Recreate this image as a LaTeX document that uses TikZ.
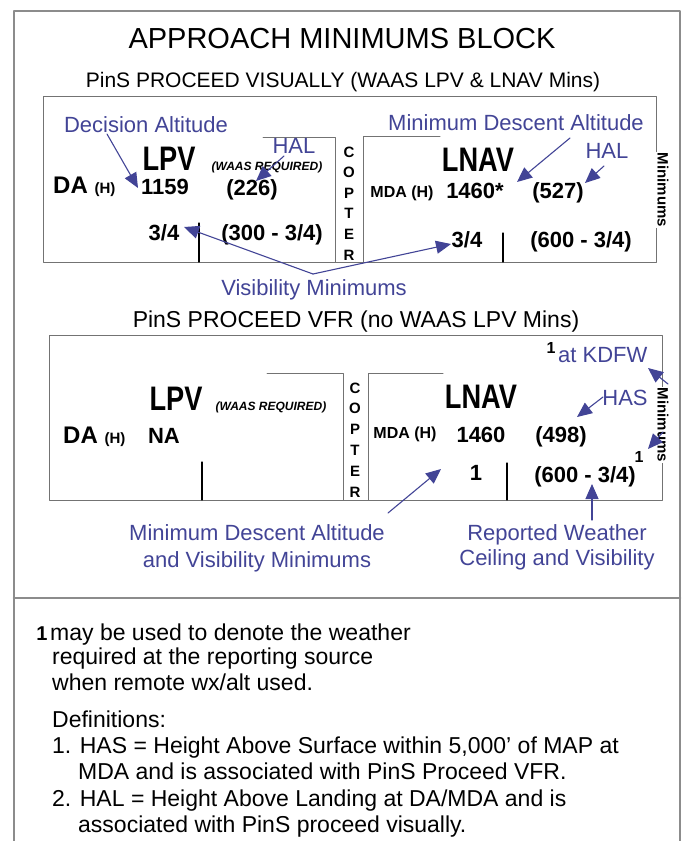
\documentclass[tikz,border=0pt]{standalone}
\usepackage{fontspec}
\setmainfont{Liberation Sans}
\newfontfamily\narrowfont[FakeStretch=0.8]{Liberation Sans}
\usetikzlibrary{arrows.meta}
\definecolor{faablue}{RGB}{66,68,150}
\definecolor{framegray}{RGB}{140,140,140}
\definecolor{boxgray}{RGB}{115,115,115}
\newcommand{\fsz}[1]{\fontsize{#1}{#1}\selectfont}

\begin{document}
\begin{tikzpicture}[x=1pt, y=-1pt, >={Triangle[length=15pt,width=13pt]},
                    line cap=round, line join=round,
                    txt/.style={inner sep=0pt, anchor=base},
                    title/.style={txt, font=\fsz{29}},
                    head/.style={txt, font=\fsz{21}},
                    lbl/.style={txt, text=faablue, font=\fsz{22}},
                    big/.style={txt, font=\narrowfont\bfseries\fsz{34}},
                    val/.style={txt, font=\bfseries\fsz{22}},
                    dah/.style={txt, font=\bfseries\fsz{24}},
                    mda/.style={txt, font=\bfseries\fsz{16}},
                    waas/.style={txt, font=\bfseries\itshape\fsz{12}},
                    copter/.style={txt, font=\bfseries\fsz{15}},
                    mins/.style={inner sep=1pt, fill=white, rotate=-90,
                                 font=\bfseries\fsz{15}},
                    sup/.style={txt, font=\bfseries\fsz{16}},
                    note/.style={txt, anchor=base west, font=\fsz{23}},
                    frame/.style={draw=framegray, line width=2.6pt},
                    box/.style={draw=boxgray, line width=1pt},
                    tick/.style={draw=black, line width=1.2pt},
                    ptr/.style={->, draw=faablue, line width=1.1pt}]
  \useasboundingbox (0,0) rectangle (686,841);

  % Outer frame and divider
  \draw[frame] (14,841) -- (14,11) -- (680,11) -- (680,841);
  \draw[frame] (14,598) -- (680,598);

  % Headings
  \node[title] (title) at (342,48) {APPROACH MINIMUMS BLOCK};
  \node[head] (pv) at (343,87) {PinS PROCEED VISUALLY (WAAS LPV \& LNAV Mins)};
  \node[head, font=\fsz{23}] (vfr) at (356,327) {PinS PROCEED VFR (no WAAS LPV Mins)};

  % Upper block: boxes
  \draw[box] (43,96) rectangle (656,262);
  \draw[box] (263,137) -- (335,137) -- (335,262);
  \draw[box] (440,136) -- (363,136) -- (363,262);
  \draw[tick] (199,223) -- (199,262);
  \draw[tick] (503,233) -- (503,262);

  % Upper block: LPV side
  \node[big] (lpv1) at (169,170) {LPV};
  \node[waas] (waas1) at (267,170) {(WAAS REQUIRED)};
  \node[dah, anchor=base west] (da1) at (53,193) {DA {\fsz{15}(H)}};
  \node[val] (v1159) at (165,194) {1159};
  \node[val] (v226) at (252,195) {(226)};
  \node[val] (vis1) at (164,240) {3/4};
  \node[val] (v300) at (272,240) {(300 - 3/4)};

  % Upper block: copter column
  \foreach \ch [count=\k] in {C,O,P,T,E,R}
    \node[copter] (cu\k) at (349,{157+20.6*(\k-1)}) {\ch};

  % Upper block: LNAV side
  \node[big] (lnav1) at (478,171) {LNAV};
  \node[mda] (mda1) at (402,197) {MDA (H)};
  \node[val] (v1460a) at (475,198) {1460*};
  \node[val] (v527) at (558,198) {(527)};
  \node[val] (vis2) at (467,247) {3/4};
  \node[val] (v600a) at (581,247) {(600 - 3/4)};
  \node[mins] (mins1) at (663,190) {Minimums};

  % Upper block: callouts
  \node[lbl] (decalt) at (146,132) {Decision Altitude};
  \node[lbl] (hal1) at (294,153) {HAL};
  \node[lbl] (mdalbl1) at (516,130) {Minimum Descent Altitude};
  \node[lbl] (hal2) at (607,158) {HAL};
  \node[lbl] (vislbl) at (314,295) {Visibility Minimums};

  \coordinate (decalt-t) at (107,134);
  \coordinate (decalt-h) at (138,188);
  \coordinate (hal1-t) at (284,156);
  \coordinate (hal1-h) at (256,181);
  \coordinate (mda1-t) at (570,138);
  \coordinate (mda1-h) at (517,182);
  \coordinate (hal2-t) at (604,166);
  \coordinate (hal2-h) at (585,183);
  \coordinate (vis-root) at (313,274);
  \coordinate (vis1-h) at (184,227);
  \coordinate (vis2-h) at (451,244);

  \draw[ptr] (decalt-t) -- (decalt-h);
  \draw[ptr] (hal1-t) -- (hal1-h);
  \draw[ptr] (mda1-t) -- (mda1-h);
  \draw[ptr] (hal2-t) -- (hal2-h);
  \draw[ptr] (vis-root) -- (vis1-h);
  \draw[ptr] (vis-root) -- (vis2-h);

  % Lower block: boxes
  \draw[box] (49,335) rectangle (662,500);
  \draw[box] (267,373) -- (343,373) -- (343,500);
  \draw[box] (443,373) -- (368,373) -- (368,500);
  \draw[tick] (202,462) -- (202,500);
  \draw[tick] (507,463) -- (507,500);

  % Lower block: LPV side
  \node[big] (lpv2) at (176,410) {LPV};
  \node[waas] (waas2) at (271,410) {(WAAS REQUIRED)};
  \node[dah, anchor=base west] (da2) at (63,443) {DA {\fsz{15}(H)}};
  \node[val] (na) at (164,443) {NA};

  % Lower block: copter column
  \foreach \ch [count=\k] in {C,O,P,T,E,R}
    \node[copter] (cl\k) at (355,{393+20.8*(\k-1)}) {\ch};

  % Lower block: LNAV side
  \node[big] (lnav2) at (481,408) {LNAV};
  \node[mda] (mda2) at (405,438) {MDA (H)};
  \node[val] (v1460b) at (481,442) {1460};
  \node[val] (v498) at (561,442) {(498)};
  \node[val] (vis3) at (476,480) {1};
  \node[val] (v600b) at (585,482) {(600 - 3/4)};
  \node[sup] (sup1) at (639,462) {1};
  \node[sup] (sup2) at (551,353) {1};
  \node[mins] (mins2) at (663,425) {Minimums};

  % Lower block: callouts
  \node[lbl, anchor=base west] (kdfw) at (558,362) {at KDFW};
  \node[lbl] (has) at (625,405) {HAS};
  \node[lbl] (mdalbl2a) at (257,540) {Minimum Descent Altitude};
  \node[lbl] (mdalbl2b) at (257,567) {and Visibility Minimums};
  \node[lbl] (rep-a) at (557,540) {Reported Weather};
  \node[lbl] (rep-b) at (557,565) {Ceiling and Visibility};

  \coordinate (kdfw-t) at (668,384);
  \coordinate (kdfw-h) at (648,368);
  \coordinate (has-t) at (603,397);
  \coordinate (has-h) at (577,417);
  \coordinate (sup1-t) at (663,432);
  \coordinate (sup1-h) at (648,449);
  \coordinate (rep-t) at (592,520);
  \coordinate (rep-h) at (592,484);
  \coordinate (mda2-t) at (388,513);
  \coordinate (mda2-h) at (441,469);

  \draw[ptr] (kdfw-t) -- (kdfw-h);
  \draw[ptr] (has-t) -- (has-h);
  \draw[ptr] (sup1-t) -- (sup1-h);
  \draw[ptr] (rep-t) -- (rep-h);
  \draw[ptr] (mda2-t) -- (mda2-h);

  % Notes
  \node[sup, font=\bfseries\fsz{20}] (n1) at (42,640) {1};
  \node[note] (note1) at (50,640) {may be used to denote the weather};
  \node[note] (note2) at (52,664) {required at the reporting source};
  \node[note] (note3) at (52,690) {when remote wx/alt used.};
  \node[note] (defs) at (52,727) {Definitions:};
  \node[note] (def1a) at (52,753) {1. HAS = Height Above Surface within 5,000' of MAP at};
  \node[note] (def1b) at (78,779) {MDA and is associated with PinS Proceed VFR.};
  \node[note] (def2a) at (52,806) {2. HAL = Height Above Landing at DA/MDA and is};
  \node[note] (def2b) at (78,832) {associated with PinS proceed visually.};
\end{tikzpicture}
\end{document}
